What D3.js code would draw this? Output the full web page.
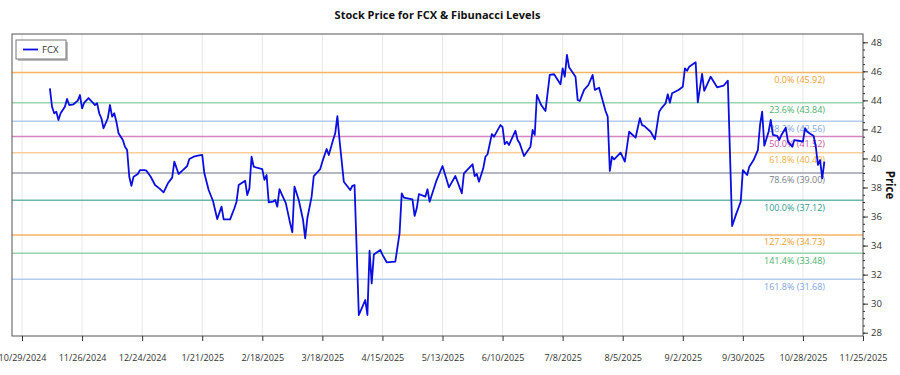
<!DOCTYPE html>
<html lang="en">
<head>
    <meta charset="UTF-8">
    <title>Stock Price for FCX & Fibunacci Levels</title>
    <script src="https://d3js.org/d3.v7.min.js"></script>
    <style>
        body {
            margin: 0;
            padding: 0;
            background: #fff;
            font-family: "Open Sans", sans-serif;
        }
        .tick-label {
            font-size: 9px;
            fill: #333;
        }
    </style>
</head>
<body>
    <div id="chart"></div>

    <script>
        // FCX close prices
        const dates = [
            "2024-11-11","2024-11-12","2024-11-13","2024-11-14","2024-11-15","2024-11-16","2024-11-18","2024-11-19","2024-11-20","2024-11-22",
            "2024-11-24","2024-11-25","2024-11-26","2024-11-27","2024-11-29","2024-12-01","2024-12-02","2024-12-03","2024-12-04","2024-12-05",
            "2024-12-06","2024-12-08","2024-12-09","2024-12-10","2024-12-11","2024-12-12","2024-12-13","2024-12-15","2024-12-16","2024-12-17",
            "2024-12-18","2024-12-19","2024-12-20","2024-12-22","2024-12-23","2024-12-25","2024-12-26","2024-12-28","2024-12-30","2025-01-01",
            "2025-01-03","2025-01-05","2025-01-07","2025-01-08","2025-01-10","2025-01-12","2025-01-14","2025-01-15","2025-01-17","2025-01-19",
            "2025-01-21","2025-01-22","2025-01-24","2025-01-26","2025-01-28","2025-01-30","2025-01-31","2025-02-03","2025-02-05","2025-02-06",
            "2025-02-07","2025-02-10","2025-02-11","2025-02-12","2025-02-13","2025-02-14","2025-02-18","2025-02-19","2025-02-20","2025-02-21",
            "2025-02-23","2025-02-24","2025-02-25","2025-02-26","2025-03-01","2025-03-03","2025-03-04","2025-03-05","2025-03-07","2025-03-09",
            "2025-03-10","2025-03-11","2025-03-13","2025-03-14","2025-03-17","2025-03-18","2025-03-20","2025-03-21","2025-03-23","2025-03-24",
            "2025-03-25","2025-03-26","2025-03-28","2025-03-31","2025-04-01","2025-04-02","2025-04-04","2025-04-07","2025-04-08","2025-04-09",
            "2025-04-10","2025-04-11","2025-04-14","2025-04-15","2025-04-17","2025-04-21","2025-04-23","2025-04-24","2025-04-25","2025-04-29",
            "2025-04-30","2025-05-01","2025-05-02","2025-05-05","2025-05-06","2025-05-07","2025-05-10","2025-05-13","2025-05-16","2025-05-19",
            "2025-05-22","2025-05-23","2025-05-27","2025-05-28","2025-05-29","2025-05-30","2025-06-01","2025-06-02","2025-06-03","2025-06-05",
            "2025-06-06","2025-06-09","2025-06-10","2025-06-11","2025-06-12","2025-06-13","2025-06-16","2025-06-17","2025-06-18","2025-06-20",
            "2025-06-23","2025-06-24","2025-06-25","2025-06-26","2025-06-28","2025-06-30","2025-07-02","2025-07-04","2025-07-07","2025-07-08",
            "2025-07-09","2025-07-10","2025-07-11","2025-07-14","2025-07-15","2025-07-16","2025-07-18","2025-07-20","2025-07-22","2025-07-23",
            "2025-07-25","2025-07-28","2025-07-29","2025-07-30","2025-07-31","2025-08-01","2025-08-04","2025-08-06","2025-08-08","2025-08-11",
            "2025-08-13","2025-08-14","2025-08-15","2025-08-18","2025-08-20","2025-08-22","2025-08-23","2025-08-25","2025-08-26","2025-08-27",
            "2025-08-28","2025-08-31","2025-09-02","2025-09-03","2025-09-04","2025-09-05","2025-09-08","2025-09-09","2025-09-11","2025-09-12",
            "2025-09-15","2025-09-18","2025-09-21","2025-09-23","2025-09-25","2025-09-27","2025-09-29","2025-09-30","2025-10-02","2025-10-03",
            "2025-10-05","2025-10-07","2025-10-08","2025-10-09","2025-10-10","2025-10-12","2025-10-13","2025-10-14","2025-10-16","2025-10-17",
            "2025-10-18","2025-10-20","2025-10-21","2025-10-23","2025-10-24","2025-10-26","2025-10-28","2025-10-29","2025-10-30","2025-11-02",
            "2025-11-03","2025-11-04","2025-11-05","2025-11-06","2025-11-07"
        ];
        const prices = [
            44.83,43.56,43.11,43.22,42.65,43.11,43.56,44.10,43.68,43.73,
            43.98,44.37,43.45,43.84,44.16,43.84,43.68,43.80,43.11,42.77,
            42.08,42.77,43.68,42.88,43.11,42.53,41.73,41.27,40.81,40.58,
            38.74,38.12,38.74,38.93,39.20,39.20,39.16,38.74,38.17,37.94,
            37.67,38.29,38.68,39.78,38.93,39.20,39.48,39.96,40.12,40.19,
            40.24,38.98,37.83,37.09,35.83,36.68,35.81,35.81,36.57,37.02,
            38.17,38.47,37.48,37.94,40.12,39.43,39.27,38.52,38.86,36.98,
            37.02,37.14,36.68,37.88,36.91,35.53,34.92,38.06,37.14,35.76,
            34.50,35.88,37.37,38.79,39.27,39.78,40.65,40.24,41.27,41.73,
            42.92,41.27,38.40,37.83,38.12,38.17,29.22,30.25,29.22,33.65,
            31.40,33.38,33.70,33.38,32.85,32.89,34.85,37.60,37.30,37.19,
            36.04,36.57,37.55,37.37,37.88,37.02,38.40,39.48,38.01,38.79,
            37.60,38.98,39.60,38.79,38.93,38.40,39.32,40.12,40.29,41.68,
            41.50,42.30,42.15,40.98,41.15,40.93,41.91,41.27,41.04,40.17,
            40.81,41.96,41.62,44.37,43.68,43.27,45.75,45.80,45.11,46.21,
            45.63,47.13,46.28,45.63,44.03,43.96,44.72,45.06,45.75,44.72,
            44.87,43.27,42.88,39.14,40.12,39.94,40.40,39.78,41.84,41.43,
            42.77,42.30,42.24,41.84,41.32,43.22,43.45,43.80,44.42,43.84,
            44.49,44.72,44.94,46.21,46.04,46.32,46.62,43.87,45.82,44.65,
            45.63,44.90,45.01,45.36,35.35,36.22,37.02,39.20,38.86,39.43,
            39.89,40.58,42.30,43.22,40.88,41.84,42.65,41.62,41.55,41.27,
            41.62,42.12,41.16,40.81,41.27,41.22,41.16,42.08,41.84,41.55,
            40.81,39.55,39.89,38.63,39.78
        ];

        // Fibonacci retracement levels
        const fibRatios = ["0.0%", "23.6%", "38.2%", "50.0%", "61.8%", "78.6%", "100.0%", "127.2%", "141.4%", "161.8%"];
        const fibValues = [45.92, 43.84, 42.56, 41.52, 40.40, 39.00, 37.12, 34.73, 33.48, 31.68];
        const fibColors = ["#f7b564", "#9ad4aa", "#b2cbee", "#d884c2", "#f8cf96", "#9ca2aa", "#6db6ae", "#f7b564", "#9ad4aa", "#b2cbee"];
        const fibTextColors = ["#f0a030", "#4cb070", "#7ea4e0", "#cc55a8", "#eeb040", "#7a808a", "#2e9a90", "#f0a030", "#4cb070", "#7ea4e0"];

        // axis ticks
        const xTickLabels = ["10/29/2024","11/26/2024","12/24/2024","1/21/2025","2/18/2025","3/18/2025","4/15/2025",
            "5/13/2025","6/10/2025","7/8/2025","8/5/2025","9/2/2025","9/30/2025","10/28/2025","11/25/2025"];
        const yTicks = [28, 30, 32, 34, 36, 38, 40, 42, 44, 46, 48];

        const width = 900;
        const height = 375;
        const plot = { left: 12, right: 863, top: 34, bottom: 336 };

        const parse = d3.timeParse("%Y-%m-%d");
        const parseTick = d3.timeParse("%m/%d/%Y");
        const data = dates.map((d, i) => ({ date: parse(d), price: prices[i] }));
        const xTicks = xTickLabels.map(parseTick);

        const x = d3.scaleTime()
            .domain([xTicks[0], xTicks[xTicks.length - 1]])
            .range([22, 863]);

        const y = d3.scaleLinear()
            .domain([28, 48])
            .range([332.7, 42.3]);

        const svg = d3.select("#chart")
            .append("svg")
            .attr("width", width)
            .attr("height", height);

        // vertical grid
        svg.append("g")
            .selectAll("line")
            .data(xTicks)
            .enter().append("line")
            .attr("x1", d => x(d)).attr("x2", d => x(d))
            .attr("y1", plot.top).attr("y2", plot.bottom)
            .attr("stroke", "#e8e8e8")
            .attr("stroke-width", 1);

        // fib lines + labels
        const fib = svg.append("g");
        fib.selectAll("line")
            .data(fibValues)
            .enter().append("line")
            .attr("x1", plot.left).attr("x2", plot.right)
            .attr("y1", d => y(d)).attr("y2", d => y(d))
            .attr("stroke", (d, i) => fibColors[i])
            .attr("stroke-width", 1.5);

        fib.selectAll("text")
            .data(fibValues)
            .enter().append("text")
            .attr("x", 825)
            .attr("y", d => y(d) + 10.5)
            .attr("text-anchor", "end")
            .attr("font-size", "9px")
            .attr("fill", (d, i) => fibTextColors[i])
            .text((d, i) => `${fibRatios[i]} (${d.toFixed(2)})`);

        // price line
        const line = d3.line()
            .x(d => x(d.date))
            .y(d => y(d.price));

        svg.append("path")
            .datum(data)
            .attr("fill", "none")
            .attr("stroke", "#0a0ee0")
            .attr("stroke-width", 1.8)
            .attr("stroke-linejoin", "round")
            .attr("d", line);

        // frame
        svg.append("rect")
            .attr("x", plot.left).attr("y", plot.top)
            .attr("width", plot.right - plot.left)
            .attr("height", plot.bottom - plot.top)
            .attr("fill", "none")
            .attr("stroke", "#555")
            .attr("stroke-width", 1);

        // x axis
        const xAxis = d3.axisBottom(x)
            .tickValues(xTicks)
            .tickSize(5)
            .tickFormat((d, i) => xTickLabels[i]);
        const gx = svg.append("g")
            .attr("transform", `translate(0,${plot.bottom})`)
            .call(xAxis);
        gx.select(".domain").remove();
        gx.selectAll(".tick line").attr("stroke", "#333");
        gx.selectAll(".tick text")
            .attr("class", "tick-label")
            .attr("dy", "1.9em")
            .attr("font-family", "Open Sans");

        // y axis on the right with minor ticks
        const gyMinor = svg.append("g")
            .attr("transform", `translate(${plot.right},0)`)
            .call(d3.axisRight(y).tickValues(d3.range(28, 48.5, 0.5)).tickSize(2).tickFormat(""));
        gyMinor.select(".domain").remove();
        gyMinor.selectAll(".tick line").attr("stroke", "#333");

        const gy = svg.append("g")
            .attr("transform", `translate(${plot.right},0)`)
            .call(d3.axisRight(y).tickValues(yTicks).tickSize(5).tickFormat(d3.format("d")));
        gy.select(".domain").remove();
        gy.selectAll(".tick line").attr("stroke", "#333");
        gy.selectAll(".tick text")
            .attr("class", "tick-label")
            .style("font-size", "9.5px")
            .attr("x", 8)
            .attr("font-family", "Open Sans");

        // title
        svg.append("text")
            .attr("x", (plot.left + plot.right) / 2)
            .attr("y", 19)
            .attr("text-anchor", "middle")
            .attr("font-size", "11px")
            .attr("font-weight", "bold")
            .attr("fill", "#111")
            .text("Stock Price for FCX & Fibunacci Levels");

        // y label
        svg.append("text")
            .attr("transform", `translate(886,${(plot.top + plot.bottom) / 2}) rotate(90)`)
            .attr("text-anchor", "middle")
            .attr("font-size", "11.5px")
            .attr("font-weight", "bold")
            .attr("fill", "#111")
            .text("Price");

        // legend
        const legend = svg.append("g").attr("transform", "translate(16,40)");
        legend.append("rect")
            .attr("x", 2).attr("y", 2)
            .attr("width", 50).attr("height", 19)
            .attr("fill", "#bbb");
        legend.append("rect")
            .attr("width", 50).attr("height", 19)
            .attr("fill", "#fff")
            .attr("stroke", "#777");
        legend.append("line")
            .attr("x1", 7).attr("x2", 22)
            .attr("y1", 9.5).attr("y2", 9.5)
            .attr("stroke", "#0a0ee0")
            .attr("stroke-width", 1.8);
        legend.append("text")
            .attr("x", 26).attr("y", 13)
            .attr("font-size", "9.5px")
            .attr("fill", "#333")
            .text("FCX");
    </script>
</body>
</html>
